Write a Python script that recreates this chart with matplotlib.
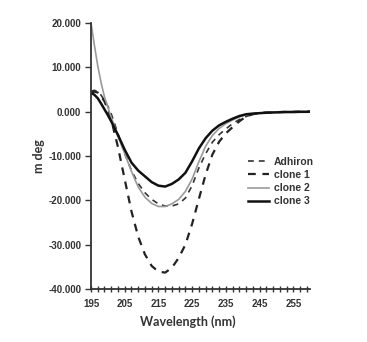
import numpy as np
import matplotlib
matplotlib.use("Agg")
import matplotlib.pyplot as plt
from matplotlib.ticker import FormatStrFormatter

wavelength = [195, 196, 197, 198, 199, 200, 201, 203, 205, 207, 209, 211, 213, 215,
              217, 219, 221, 223, 225, 227, 229, 231, 233, 235, 237, 239, 241, 243,
              245, 247, 249, 251, 253, 255, 257, 259, 260]
adhiron = [4.6, 4.8, 4.5, 3.7, 2.5, 1.2, -0.5, -5.0, -9.5, -13.3, -16.2, -18.3, -19.8,
           -20.8, -21.3, -21.3, -20.8, -19.5, -16.7, -12.7, -9.5, -6.9, -5.2, -3.9, -2.7,
           -1.8, -1.1, -0.6, -0.3, -0.2, -0.15, -0.1, -0.1, -0.05, -0.05, 0.0, 0.0]
clone1 = [4.3, 4.5, 4.3, 3.5, 2.3, 0.5, -1.8, -8.0, -15.3, -22.5, -28.2, -32.2, -34.8,
          -36.1, -36.3, -35.2, -33.0, -30.0, -25.3, -19.7, -14.2, -9.7, -6.8, -4.9, -3.5,
          -2.2, -1.1, -0.6, -0.3, -0.2, -0.15, -0.1, -0.05, -0.05, 0.0, 0.0, 0.0]
clone2 = [20.0, 15.0, 10.3, 6.5, 3.3, 1.0, -1.3, -5.5, -9.5, -13.5, -17.0, -19.3, -20.7,
          -21.4, -21.4, -20.8, -19.8, -18.0, -15.2, -11.3, -7.8, -5.4, -3.8, -2.7, -1.9,
          -1.2, -0.7, -0.45, -0.3, -0.2, -0.1, -0.05, 0.0, 0.0, 0.0, 0.0, 0.0]
clone3 = [4.2, 3.8, 3.0, 1.8, 0.5, -0.8, -2.2, -5.3, -8.6, -11.5, -13.3, -14.6, -15.9,
          -16.7, -16.9, -16.3, -15.3, -13.8, -11.2, -8.3, -6.0, -4.3, -3.1, -2.3, -1.6,
          -1.0, -0.6, -0.45, -0.35, -0.25, -0.2, -0.15, -0.1, -0.1, -0.05, -0.05, 0.0]
series_names = ["Adhiron", "clone 1", "clone 2", "clone 3"]
x_ticks = [195, 205, 215, 225, 235, 245, 255]
y_ticks = [20, 10, 0, -10, -20, -30, -40]

fig = plt.figure(figsize=(3.67, 3.42), dpi=100)
ax = fig.add_axes([0.248, 0.155, 0.597, 0.778])

ax.plot(wavelength, adhiron, color="#333333", lw=1.2, dashes=(3.5, 3), label=series_names[0])
ax.plot(wavelength, clone1, color="#222222", lw=1.6, dashes=(3.5, 3), label=series_names[1])
ax.plot(wavelength, clone2, color="#9a9a9a", lw=1.2, label=series_names[2])
ax.plot(wavelength, clone3, color="#111111", lw=1.8, label=series_names[3])

ax.set_xlim(195, 260)
ax.set_ylim(-40, 20)
ax.set_xticks(x_ticks)
ax.set_xticks(np.arange(195, 261, 2), minor=True)
ax.set_yticks(y_ticks)
ax.yaxis.set_major_formatter(FormatStrFormatter("%.3f"))

for s in ["top", "right"]:
    ax.spines[s].set_visible(False)
for s in ["left", "bottom"]:
    ax.spines[s].set_linewidth(1.3)
    ax.spines[s].set_color("#333333")

ax.tick_params(axis="x", which="both", direction="inout", length=4, width=1, color="#333333", pad=5)
ax.tick_params(axis="y", which="both", direction="out", length=4, width=1, color="#333333", pad=3)

for lab in ax.get_xticklabels() + ax.get_yticklabels():
    lab.set_fontfamily("Liberation Sans")
    lab.set_fontweight("bold")
    lab.set_fontsize(7)
    lab.set_color("#333333")

ax.set_xlabel("Wavelength (nm)", family="Lato", fontweight="bold", fontsize=9, color="#333333")
ax.set_ylabel("m deg", family="Lato", fontweight="bold", fontsize=9, color="#333333")
ax.xaxis.set_label_coords(0.44, -0.10)
ax.yaxis.set_label_coords(-0.21, 0.5)

leg = ax.legend(loc="center left", bbox_to_anchor=(0.676, 0.469), bbox_transform=fig.transFigure,
                frameon=False, borderpad=0, borderaxespad=0, handlelength=2.0,
                handletextpad=0.5, labelspacing=0.3,
                prop={"family": "Liberation Sans", "weight": "bold", "size": 7.5})
for t in leg.get_texts():
    t.set_color("#333333")

fig.savefig("out.png", dpi=100)
